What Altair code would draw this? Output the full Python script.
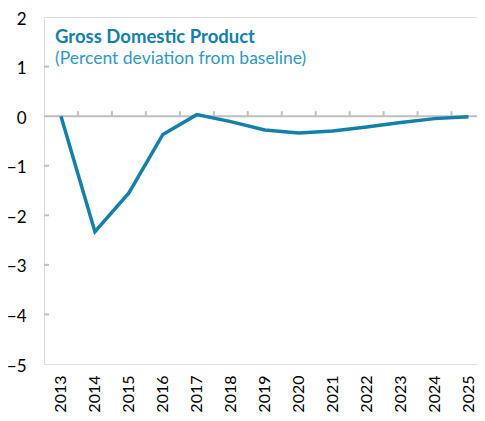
import altair as alt
import pandas as pd

years = [2013, 2014, 2015, 2016, 2017, 2018, 2019, 2020, 2021, 2022, 2023, 2024, 2025]
gdp = [0.0, -2.33, -1.55, -0.37, 0.03, -0.11, -0.28, -0.34, -0.30, -0.22, -0.13, -0.05, -0.01]
y_ticks = [-5, -4, -3, -2, -1, 0, 1, 2]
inner_y_ticks = [-4, -3, -2, -1, 1]
boundaries = [y + 0.5 for y in years[:-1]]
x_domain = [2012.5, 2025.25]

BLUE = "#1380AC"
GRAY = "#BFBFBF"
FONT = "Lato"

df = pd.DataFrame({"year": years, "gdp": gdp})
df_b = pd.DataFrame({"x": boundaries, "y0": [0.0] * len(boundaries), "y1": [0.1] * len(boundaries)})
df_yt = pd.DataFrame({"v": inner_y_ticks})
df_zero = pd.DataFrame({"z": [0.0]})

xscale = alt.Scale(domain=x_domain, nice=False, zero=False)
yscale = alt.Scale(domain=[-5, 2], nice=False)

xaxis = alt.Axis(values=years, format="d", labelAngle=270, labelFontSize=16, labelFont=FONT,
                 labelColor="#000000", ticks=False, tickSize=0, domain=False, grid=False,
                 labelPadding=11, labelFlush=False, labelOverlap=False, labelBound=False,
                 title=None)
yaxis = alt.Axis(values=y_ticks, labelFontSize=17, labelFont=FONT, labelColor="#000000",
                 ticks=False, tickSize=0, domain=False, grid=False, labelPadding=18,
                 labelOffset=2, labelOverlap=False, labelFlush=False, title=None)

line = alt.Chart(df).mark_line(color=BLUE, strokeWidth=3.5).encode(
    x=alt.X("year:Q", scale=xscale, axis=xaxis),
    y=alt.Y("gdp:Q", scale=yscale, axis=yaxis),
)

zero = alt.Chart(df_zero).mark_rule(color=GRAY, strokeWidth=2).encode(
    y=alt.Y("z:Q", scale=yscale, axis=yaxis)
)

zticks = alt.Chart(df_b).mark_rule(color=GRAY, strokeWidth=2).encode(
    x=alt.X("x:Q", scale=xscale, axis=xaxis),
    y=alt.Y("y0:Q", scale=yscale, axis=yaxis),
    y2="y1:Q",
)

yticks = alt.Chart(df_yt).mark_rule(color=GRAY, strokeWidth=2).encode(
    x=alt.value(0), x2=alt.value(5),
    y=alt.Y("v:Q", scale=yscale, axis=yaxis),
)

chart = alt.layer(zero, zticks, yticks, line).properties(
    width=433,
    height=347,
    autosize=alt.AutoSizeParams(type="none"),
    padding={"left": 36, "top": 9, "right": 0, "bottom": 49},
    title=alt.TitleParams(
        text="Gross Domestic  Product",
        subtitle="(Percent deviation from baseline)",
        anchor="start",
        frame="group",
        orient="top",
        dx=11,
        dy=0.5,
        offset=-57,
        font=FONT,
        fontSize=18.5,
        fontWeight="bold",
        color=BLUE,
        subtitleFont=FONT,
        subtitleFontSize=17.5,
        subtitleColor="#2E98C6",
        subtitlePadding=4,
    ),
).configure_view(stroke=GRAY, strokeWidth=2).configure(background="white")

chart.save("out.html", embed_options={"renderer": "svg", "actions": False})
